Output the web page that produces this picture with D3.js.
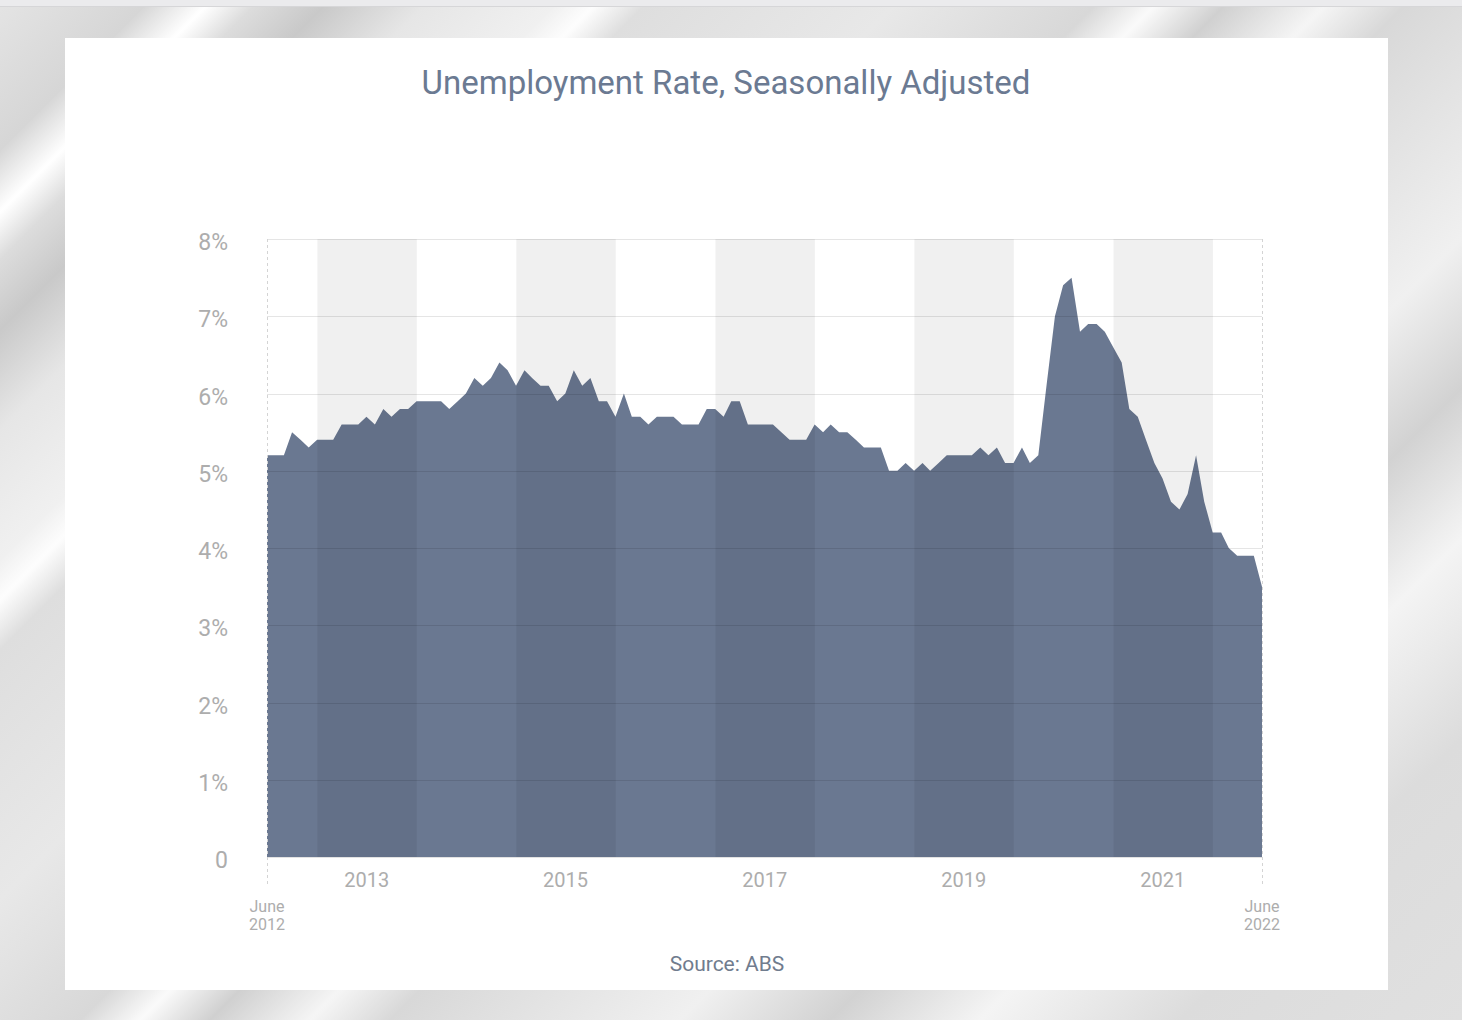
<!DOCTYPE html>
<html>
<head>
	<script src="https://cdn.jsdelivr.net/npm/d3@7"></script>
	<style>
		html, body {
			padding: 0;
			margin: 0;
			overflow: hidden;
		}
		text {
			font-family: Roboto, "Noto Sans", sans-serif;
		}
	</style>
</head>
<body>
	<script>
		var width = 1462;
		var height = 1020;

		// ~ ~ ~ DATA ~ ~ ~
		// monthly, June 2012 .. June 2022 (percent)
		const START_YEAR = 2012;
		const START_MONTH = 6;
		const unemploymentRate = [
			5.2, 5.2, 5.2, 5.5, 5.4, 5.3, 5.4,                          // 2012 Jun-Dec
			5.4, 5.4, 5.6, 5.6, 5.6, 5.7, 5.6, 5.8, 5.7, 5.8, 5.8, 5.9, // 2013
			5.9, 5.9, 5.9, 5.8, 5.9, 6.0, 6.2, 6.1, 6.2, 6.4, 6.3, 6.1, // 2014
			6.3, 6.2, 6.1, 6.1, 5.9, 6.0, 6.3, 6.1, 6.2, 5.9, 5.9, 5.7, // 2015
			6.0, 5.7, 5.7, 5.6, 5.7, 5.7, 5.7, 5.6, 5.6, 5.6, 5.8, 5.8, // 2016
			5.7, 5.9, 5.9, 5.6, 5.6, 5.6, 5.6, 5.5, 5.4, 5.4, 5.4, 5.6, // 2017
			5.5, 5.6, 5.5, 5.5, 5.4, 5.3, 5.3, 5.3, 5.0, 5.0, 5.1, 5.0, // 2018
			5.1, 5.0, 5.1, 5.2, 5.2, 5.2, 5.2, 5.3, 5.2, 5.3, 5.1, 5.1, // 2019
			5.3, 5.1, 5.2, 6.1, 7.0, 7.4, 7.5, 6.8, 6.9, 6.9, 6.8, 6.6, // 2020
			6.4, 5.8, 5.7, 5.4, 5.1, 4.9, 4.6, 4.5, 4.7, 5.2, 4.6, 4.2, // 2021
			4.2, 4.0, 3.9, 3.9, 3.9, 3.5                                // 2022 Jan-Jun
		];
		const yTicks = [0, 1, 2, 3, 4, 5, 6, 7, 8];
		const yearLabels = [2013, 2015, 2017, 2019, 2021];
		const endLabels = [["June", "2012"], ["June", "2022"]];
		const TITLE = "Unemployment Rate, Seasonally Adjusted";
		const SOURCE = "Source: ABS";

		// ~ ~ ~ STYLE CONSTANTS ~ ~ ~
		const AREA_COLOR = "#6a7891";
		const TITLE_COLOR = "#6b7a92";
		const LABEL_COLOR = "#adadad";
		const CARD = { x: 65, y: 38, w: 1323, h: 952 };
		const PLOT = { left: 267, right: 1262, top: 239, bottom: 857 };

		var svg = d3.select("body").append("svg")
			.attr("width", width)
			.attr("height", height);

		// ~ ~ ~ SILVER BACKGROUND ~ ~ ~
		var bgStops = [
			[0, "#e4e4e4"], [150, "#d6d6d6"], [212, "#ffffff"], [260, "#dcdcdc"],
			[330, "#c9c9c9"], [430, "#e6e6e6"], [560, "#f0f0f0"], [600, "#fdfdfd"],
			[650, "#dedede"], [900, "#e8e8e8"], [1100, "#d8d8d8"], [1160, "#fafafa"],
			[1230, "#d0d0d0"], [1330, "#f5f5f5"], [1410, "#d8d8d8"], [1700, "#f0f0f0"],
			[1850, "#d2d2d2"], [2000, "#f4f4f4"], [2200, "#dcdcdc"], [2482, "#e0e0e0"]
		];
		var defs = svg.append("defs");
		var grad = defs.append("linearGradient")
			.attr("id", "silver")
			.attr("gradientUnits", "userSpaceOnUse")
			.attr("x1", 0).attr("y1", 0)
			.attr("x2", 1241).attr("y2", 1241);
		grad.selectAll("stop")
			.data(bgStops)
			.enter().append("stop")
			.attr("offset", (d) => d[0] / 2482)
			.attr("stop-color", (d) => d[1]);

		svg.append("rect")
			.attr("width", width)
			.attr("height", height)
			.attr("fill", "url(#silver)");

		// thin strip at the very top
		svg.append("rect")
			.attr("width", width)
			.attr("height", 6)
			.attr("fill", "#ebebed");
		svg.append("line")
			.attr("x1", 0).attr("x2", width)
			.attr("y1", 6.5).attr("y2", 6.5)
			.attr("stroke", "#d6d6d8");

		svg.append("rect")
			.attr("x", CARD.x).attr("y", CARD.y)
			.attr("width", CARD.w).attr("height", CARD.h)
			.attr("fill", "#ffffff");

		// ~ ~ ~ SCALES ~ ~ ~
		var monthEnd = (i) => new Date(START_YEAR, START_MONTH + i, 0);
		var dates = unemploymentRate.map((v, i) => monthEnd(i));

		var x = d3.scaleTime()
			.domain([dates[0], dates[dates.length - 1]])
			.range([PLOT.left, PLOT.right]);
		var y = d3.scaleLinear()
			.domain([0, 8])
			.range([PLOT.bottom, PLOT.top]);

		// ~ ~ ~ AREA ~ ~ ~
		var area = d3.area()
			.x((d, i) => x(dates[i]))
			.y0(y(0))
			.y1((d) => y(d));

		svg.append("path")
			.datum(unemploymentRate)
			.attr("d", area)
			.attr("fill", AREA_COLOR);

		// alternating year bands, drawn over the area so it darkens too
		svg.selectAll("rect.band")
			.data(yearLabels)
			.enter().append("rect")
			.attr("class", "band")
			.attr("x", (yr) => x(new Date(yr, 0, 1)))
			.attr("width", (yr) => x(new Date(yr + 1, 0, 1)) - x(new Date(yr, 0, 1)))
			.attr("y", PLOT.top)
			.attr("height", PLOT.bottom - PLOT.top)
			.attr("fill", "rgba(0,0,0,0.058)");

		// horizontal grid
		svg.selectAll("line.grid")
			.data(yTicks)
			.enter().append("line")
			.attr("class", "grid")
			.attr("x1", PLOT.left).attr("x2", PLOT.right)
			.attr("y1", (d) => Math.round(y(d)) + 0.5)
			.attr("y2", (d) => Math.round(y(d)) + 0.5)
			.attr("stroke", (d) => d === 0 ? "#e2e2e2" : "rgba(0,0,0,0.1)")
			.attr("stroke-width", 1.2);

		// dashed verticals at both ends
		svg.selectAll("line.edge")
			.data(dates.filter((d, i) => i === 0 || i === dates.length - 1))
			.enter().append("line")
			.attr("class", "edge")
			.attr("x1", (d) => Math.round(x(d)) + 0.5)
			.attr("x2", (d) => Math.round(x(d)) + 0.5)
			.attr("y1", PLOT.top)
			.attr("y2", PLOT.bottom + 30)
			.attr("stroke", "#d4d4d4")
			.attr("stroke-dasharray", "3,3");

		// ~ ~ ~ AXIS LABELS ~ ~ ~
		svg.selectAll("text.ylab")
			.data(yTicks)
			.enter().append("text")
			.attr("class", "ylab")
			.attr("x", 228)
			.attr("y", (d) => y(d) + 11)
			.attr("text-anchor", "end")
			.attr("font-size", 23)
			.attr("fill", LABEL_COLOR)
			.text((d) => d === 0 ? "0" : d + "%");

		svg.selectAll("text.xlab")
			.data(yearLabels)
			.enter().append("text")
			.attr("class", "xlab")
			.attr("x", (yr) => x(new Date(yr, 6, 1)))
			.attr("y", 887)
			.attr("text-anchor", "middle")
			.attr("font-size", 20)
			.attr("fill", LABEL_COLOR)
			.text((yr) => yr);

		var endDates = [dates[0], dates[dates.length - 1]];
		var endText = svg.selectAll("text.endlab")
			.data(endLabels)
			.enter().append("text")
			.attr("class", "endlab")
			.attr("x", (d, i) => x(endDates[i]))
			.attr("text-anchor", "middle")
			.attr("font-size", 16)
			.attr("fill", LABEL_COLOR);
		endText.append("tspan")
			.attr("x", (d, i) => x(endDates[i]))
			.attr("y", 912)
			.text((d) => d[0]);
		endText.append("tspan")
			.attr("x", (d, i) => x(endDates[i]))
			.attr("y", 930)
			.text((d) => d[1]);

		// ~ ~ ~ TITLE / SOURCE ~ ~ ~
		svg.append("text")
			.attr("x", 726)
			.attr("y", 94)
			.attr("text-anchor", "middle")
			.attr("font-size", 33)
			.attr("fill", TITLE_COLOR)
			.text(TITLE);

		svg.append("text")
			.attr("x", 727)
			.attr("y", 971)
			.attr("text-anchor", "middle")
			.attr("font-size", 21)
			.attr("fill", "#707c8e")
			.text(SOURCE);
	</script>
</body>
</html>
